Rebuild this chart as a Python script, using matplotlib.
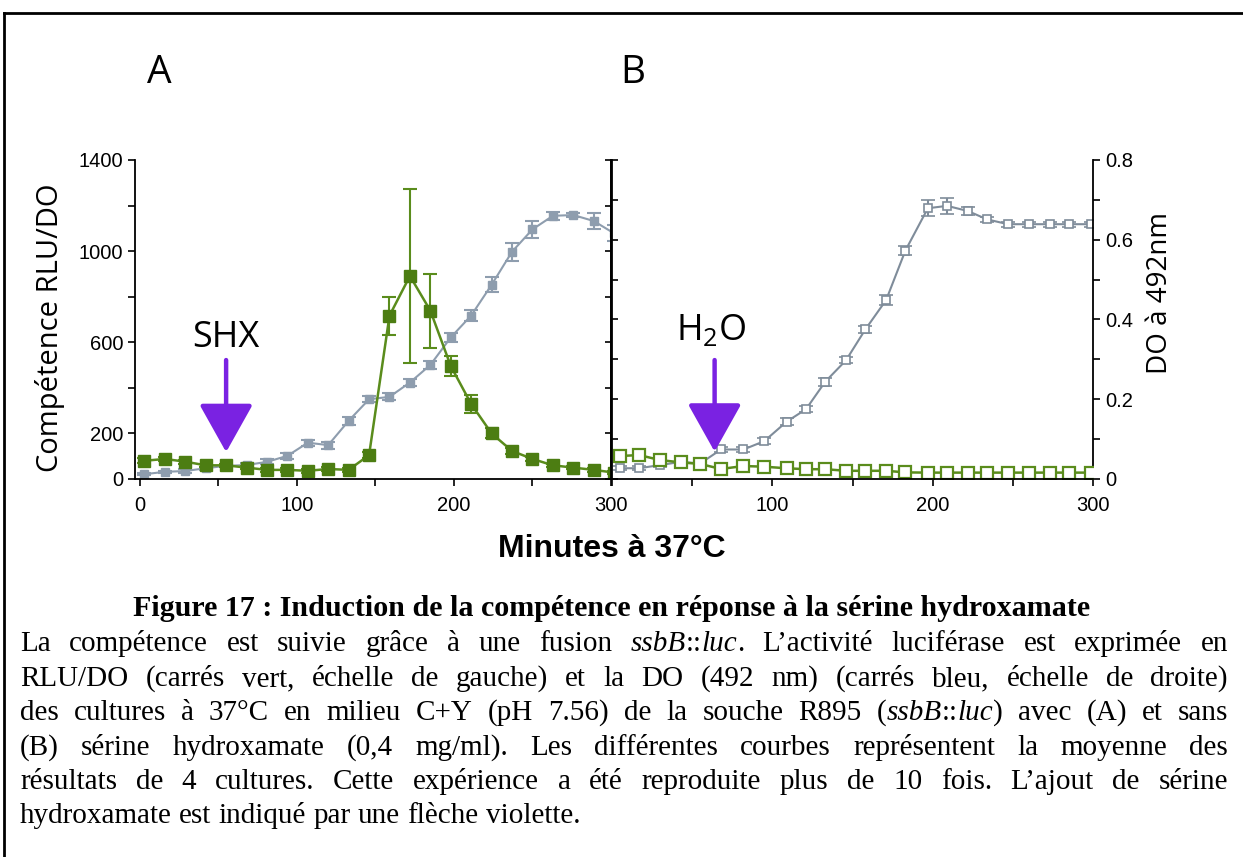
import matplotlib.pyplot as plt
from matplotlib.ticker import FixedLocator, FixedFormatter
from matplotlib.lines import Line2D

W, H = 1243, 857

# A : avec sérine hydroxamate (SHX)
t_a = [3, 16, 29, 42, 55, 68, 81, 94, 107, 120, 133, 146, 159, 172, 185, 198,
       211, 224, 237, 250, 263, 276, 289, 302]
rlu_a = [80, 88, 76, 60, 60, 50, 40, 40, 36, 44, 40, 105, 717, 891, 739, 496,
         329, 200, 123, 88, 60, 50, 40, 28]
rlu_a_err = [10, 10, 8, 8, 8, 8, 8, 8, 8, 8, 8, 12, 83, 382, 162, 44,
             39, 22, 15, 10, 8, 8, 8, 6]
do_a = [0.012, 0.018, 0.02, 0.027, 0.033, 0.035, 0.043, 0.058, 0.091, 0.085,
        0.146, 0.2, 0.206, 0.242, 0.286, 0.355, 0.41, 0.487, 0.57, 0.626,
        0.66, 0.662, 0.647, 0.616]
do_a_err = [0.003, 0.003, 0.004, 0.004, 0.004, 0.005, 0.006, 0.007, 0.008,
            0.009, 0.01, 0.008, 0.009, 0.01, 0.011, 0.012, 0.013, 0.019,
            0.023, 0.022, 0.01, 0.006, 0.019, 0.02]

# B : témoin H2O
t_b = [5, 17, 30, 43, 55, 68, 82, 95, 109, 121, 133, 146, 158, 171, 183, 197,
       209, 222, 234, 247, 260, 273, 285, 299]
rlu_b = [101, 105, 83, 73, 66, 44, 57, 54, 47, 43, 43, 36, 36, 36, 29, 28,
         28, 28, 28, 28, 28, 28, 28, 28]
rlu_b_err = [8] * 24
do_b = [0.027, 0.027, 0.035, 0.043, 0.039, 0.074, 0.074, 0.095, 0.144, 0.175,
        0.244, 0.298, 0.375, 0.449, 0.573, 0.679, 0.685, 0.672, 0.651, 0.639,
        0.639, 0.639, 0.639, 0.639]
do_b_err = [0.005, 0.005, 0.005, 0.005, 0.005, 0.006, 0.006, 0.008, 0.008,
            0.008, 0.01, 0.008, 0.008, 0.012, 0.012, 0.02, 0.02, 0.01,
            0.006, 0.006, 0.006, 0.006, 0.006, 0.006]

x_ticks = [0, 50, 100, 150, 200, 250, 300]
rlu_ticks = [0, 200, 400, 600, 800, 1000, 1200, 1400]
rlu_labels = ['0', '200', '', '600', '', '1000', '', '1400']
do_ticks = [0, 0.1, 0.2, 0.3, 0.4, 0.5, 0.6, 0.7, 0.8]
do_labels = ['0', '', '0.2', '', '0.4', '', '0.6', '', '0.8']

green = '#4c7d12'
grey = '#8e9dae'
violet = '#7a22e2'
sans = 'Open Sans'
tick_font = 'Liberation Sans'

fig = plt.figure(figsize=(W / 100, H / 100), dpi=100)


def box(x0, x1, y0, y1):
    return [x0 / W, 1 - y1 / H, (x1 - x0) / W, (y1 - y0) / H]


axA = fig.add_axes(box(135, 611, 160, 479))
axA2 = axA.twinx()
axB = fig.add_axes(box(612, 1093, 160, 479))
axB2 = axB.twinx()

for ax in (axA, axA2, axB, axB2):
    ax.spines['top'].set_visible(False)
    for s in ax.spines.values():
        s.set_linewidth(1.3)
    ax.tick_params(width=1.2, length=5, direction='out',
                   labelsize=14.5, labelfontfamily=tick_font)

for ax in (axA, axB):
    ax.set_xlim(-3 if ax is axA else 0, 300)
    ax.set_ylim(0, 1400)
    ax.xaxis.set_major_locator(FixedLocator(x_ticks))
    ax.yaxis.set_major_locator(FixedLocator(rlu_ticks))
    ax.tick_params(axis='x', pad=7)
for ax in (axA2, axB2):
    ax.set_ylim(0, 0.8)
    ax.yaxis.set_major_locator(FixedLocator(do_ticks))

axA.xaxis.set_major_formatter(FixedFormatter(['0', '', '100', '', '200', '', '300']))
axB.xaxis.set_major_formatter(FixedFormatter(['', '', '100', '', '200', '', '300']))
axA.yaxis.set_major_formatter(FixedFormatter(rlu_labels))
axB.tick_params(axis='y', labelleft=False)
axB.spines['right'].set_visible(False)
axA2.tick_params(axis='y', labelright=False)
axB2.yaxis.set_major_formatter(FixedFormatter(do_labels))
axB2.spines['left'].set_visible(False)
axA2.spines['left'].set_visible(False)
axA2.spines['bottom'].set_visible(False)
axB2.spines['bottom'].set_visible(False)

# green curves on top of the OD curves
for a, a2 in ((axA, axA2), (axB, axB2)):
    a.set_zorder(a2.get_zorder() + 1)
    a.patch.set_visible(False)

# A : filled squares
axA2.errorbar(t_a, do_a, yerr=do_a_err, color=grey, ecolor=grey, lw=1.5,
              elinewidth=1.5, capsize=5, capthick=1.5, marker='s', ms=5.5,
              mfc=grey, mec=grey)
axA.errorbar(t_a, rlu_a, yerr=rlu_a_err, color='#5a8c1c', ecolor='#5a8c1c',
             lw=1.8, elinewidth=1.5, capsize=5, capthick=1.5, marker='s',
             ms=8.5, mfc=green, mec=green)

# B : open squares
axB2.errorbar(t_b, do_b, yerr=do_b_err, color='#7f8c9a', ecolor='#7f8c9a',
              lw=1.5, elinewidth=1.5, capsize=5, capthick=1.5, marker='s',
              ms=6, mfc='white', mec='#7f8c9a', mew=1.2)
axB.errorbar(t_b, rlu_b, yerr=rlu_b_err, color='#5a8c1c', ecolor='#5a8c1c',
             lw=1.8, elinewidth=1.2, capsize=3, capthick=1.2, marker='s',
             ms=8, mfc='white', mec='#5a8c1c', mew=1.6)

# additions at time of treatment
arrow = dict(arrowstyle='-|>,head_length=0.75,head_width=0.42', color=violet,
             lw=3.2, mutation_scale=40, shrinkA=0, shrinkB=0)
axA.annotate('', xy=(55, 118), xytext=(55, 522), arrowprops=arrow)
axA.text(55, 621, 'SHX', ha='center', va='center', fontsize=26, family=sans)
axB.annotate('', xy=(64, 120), xytext=(64, 522), arrowprops=arrow)
axB.text(62, 650, r'H$_\mathregular{2}$O', ha='center', va='center',
         fontsize=26, family=sans)

fig.text(159 / W, 1 - 73 / H, 'A', ha='center', va='center', fontsize=28, family=sans)
fig.text(633 / W, 1 - 73 / H, 'B', ha='center', va='center', fontsize=28, family=sans)
fig.text(50 / W, 1 - 328 / H, 'Compétence RLU/DO', rotation=90, ha='center',
         va='center', fontsize=21, family=sans)
fig.text(1160 / W, 1 - 293 / H, 'DO à 492nm', rotation=90, ha='center',
         va='center', fontsize=20, family=sans)
fig.text(612 / W, 1 - 549 / H, 'Minutes à 37°C', ha='center', va='center',
         fontsize=23, fontweight='bold', family=tick_font)

# frame around the figure
fig.add_artist(Line2D([4 / W, 1], [1 - 13 / H] * 2, color='black', lw=2))
fig.add_artist(Line2D([4 / W] * 2, [0, 1 - 13 / H], color='black', lw=2))

# caption
serif = 'Liberation Serif'
cap_size = 21
fig.text(612 / W, 1 - 616 / H,
         'Figure 17 : Induction de la compétence en réponse à la sérine hydroxamate',
         ha='center', va='baseline', fontsize=21.6, fontweight='bold', family=serif)

cap_lines = [
    'La compétence est suivie grâce à une fusion *ssbB*::*luc*. L’activité luciférase est exprimée en',
    'RLU/DO (carrés vert, échelle de gauche) et la DO (492 nm) (carrés bleu, échelle de droite)',
    'des cultures à 37°C en milieu C+Y (pH 7.56) de la souche R895 (*ssbB*::*luc*) avec (A) et sans',
    '(B) sérine hydroxamate (0,4 mg/ml). Les différentes courbes représentent la moyenne des',
    'résultats de 4 cultures. Cette expérience a été reproduite plus de 10 fois. L’ajout de sérine',
    'hydroxamate est indiqué par une flèche violette.',
]
cap_base = [651, 686, 720, 755, 789, 823]
x_left, x_right = 20, 1228

renderer = fig.canvas.get_renderer()
space = cap_size * 100 / 72 * 0.25
for i, line in enumerate(cap_lines):
    y = 1 - cap_base[i] / H
    words = []
    for w in line.split(' '):
        items, width = [], 0
        for k, chunk in enumerate(w.split('*')):
            if not chunk:
                continue
            t = fig.text(0, y, chunk, va='baseline', fontsize=cap_size,
                         family=serif, style='italic' if k % 2 else 'normal')
            items.append((t, width))
            width += t.get_window_extent(renderer).width
        words.append((items, width))
    total = sum(wd for _, wd in words)
    if i < len(cap_lines) - 1:
        gap = (x_right - x_left - total) / (len(words) - 1)
    else:
        gap = space
    x = x_left
    for items, width in words:
        for t, off in items:
            t.set_x((x + off) / W)
        x += width + gap

fig.savefig('out.png', dpi=100)
